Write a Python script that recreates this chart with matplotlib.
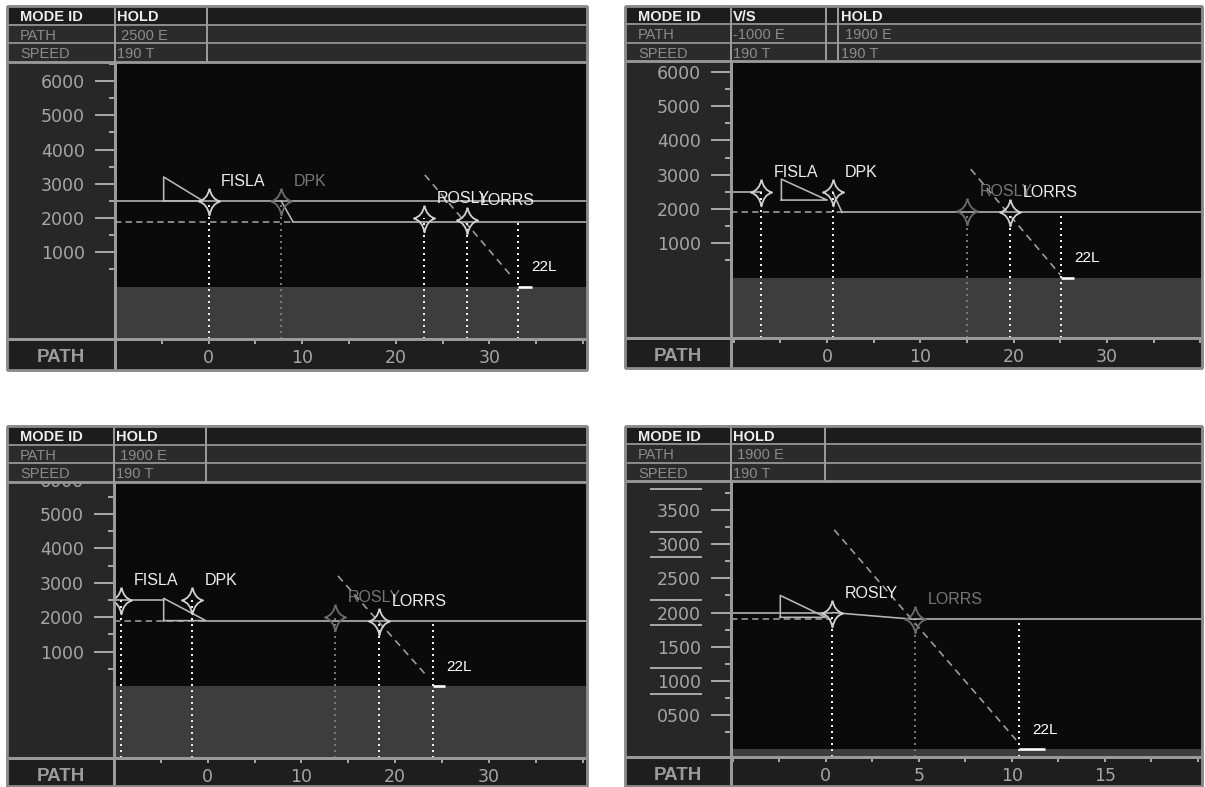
import numpy as np
import matplotlib
matplotlib.use("Agg")
import matplotlib.pyplot as plt
from matplotlib.path import Path
from matplotlib.patches import Rectangle
from matplotlib.ticker import MultipleLocator, FixedLocator, FuncFormatter

W, H = 1205, 787
PT = 72 / 100.0   # points per pixel

# ---------------- values read off the four displays ----------------
# top left
P1_HEADER = [["HOLD", " 2500 E", "190 T"]]
P1_WPT = ["FISLA", "DPK", "ROSLY", "LORRS"]
P1_WPT_X = [0.0, 7.75, 23.0, 27.6]
P1_WPT_ALT = [2500, 2500, 2000, 1950]
P1_WPT_LIT = [True, False, True, True]
P1_LEVEL_ALT = 2500
P1_LEVEL_END = None          # level line runs across the whole display
P1_TRI_X = [-4.8, -4.8, -0.6]
P1_TRI_ALT = [2500, 3200, 2500]
P1_DESC_X = [7.75, 9.0]
P1_DESC_ALT = [2500, 1900]
P1_SEL_ALT = 1900
P1_SEL_DASH_END = 9.0
P1_SEL_SOLID_START = 9.0
P1_GS_X = [23.1, 32.4]
P1_GS_ALT = [3260, 290]
P1_RWY_X = [33.1, 34.5]

# top right
P2_HEADER = [["V/S", "-1000 E", "190 T"], ["HOLD", " 1900 E", "190 T"]]
P2_WPT = ["FISLA", "DPK", "ROSLY", "LORRS"]
P2_WPT_X = [-7.1, 0.6, 15.0, 19.6]
P2_WPT_ALT = [2500, 2500, 1950, 1900]
P2_WPT_LIT = [True, True, False, True]
P2_LEVEL_ALT = 2500
P2_LEVEL_END = -7.1
P2_TRI_X = [-4.9, -4.9, 0.0]
P2_TRI_ALT = [2260, 2870, 2260]
P2_DESC_X = [0.6, 1.6]
P2_DESC_ALT = [2500, 1900]
P2_SEL_ALT = 1900
P2_SEL_DASH_END = 1.6
P2_SEL_SOLID_START = 1.6
P2_GS_X = [15.4, 25.0]
P2_GS_ALT = [3160, 80]
P2_RWY_X = [25.1, 26.5]

# bottom left
P3_HEADER = [["HOLD", " 1900 E", "190 T"]]
P3_WPT = ["FISLA", "DPK", "ROSLY", "LORRS"]
P3_WPT_X = [-9.2, -1.65, 13.6, 18.3]
P3_WPT_ALT = [2500, 2500, 2000, 1900]
P3_WPT_LIT = [True, True, False, True]
P3_LEVEL_ALT = 2500
P3_LEVEL_END = -4.7
P3_TRI_X = [-4.7, -4.7, -0.2]
P3_TRI_ALT = [1900, 2550, 1900]
P3_DESC_X = []
P3_DESC_ALT = []
P3_SEL_ALT = 1900
P3_SEL_DASH_END = -0.2
P3_SEL_SOLID_START = -0.2
P3_GS_X = [13.9, 23.3]
P3_GS_ALT = [3200, 320]
P3_RWY_X = [24.0, 25.35]

# bottom right
P4_HEADER = [["HOLD", " 1900 E", "190 T"]]
P4_WPT = ["ROSLY", "LORRS"]
P4_WPT_X = [0.35, 4.8]
P4_WPT_ALT = [2000, 1900]
P4_WPT_LIT = [True, False]
P4_LEVEL_ALT = 2000
P4_LEVEL_END = 0.35
P4_TRI_X = [-2.45, -2.45, 0.0]
P4_TRI_ALT = [1930, 2250, 1930]
P4_DESC_X = [0.35, 4.8]
P4_DESC_ALT = [2000, 1900]
P4_SEL_ALT = 1900
P4_SEL_DASH_END = 0.35
P4_SEL_SOLID_START = 4.8
P4_GS_X = [0.45, 10.23]
P4_GS_ALT = [3210, 135]
P4_RWY_X = [10.4, 11.8]

# ---------------- colours ----------------
C_FRAME = "#9a9a9a"
C_LEFTCOL = "#272727"
C_HDR1 = "#1c1c1c"
C_HDR2 = "#2b2b2b"
C_BOTTOM = "#1e1e1e"
C_SKY = "#0a0a0a"
C_GROUND = "#3d3d3d"
C_TICK = "#a6a6a6"
C_LIT = "#eeeeee"
C_DIM = "#767676"
C_LINE = "#b8b8b8"

STAR = Path([(0, 1.15), (0.2, 0.2), (0.95, 0), (0.2, -0.2), (0, -1.25),
             (-0.2, -0.2), (-0.95, 0), (-0.2, 0.2), (0, 1.15)],
            [Path.MOVETO] + [Path.CURVE3] * 8)

fig = plt.figure(figsize=(W / 100, H / 100), dpi=100)
fig.patch.set_facecolor("white")

bg = fig.add_axes([0, 0, 1, 1], zorder=0)
ov = fig.add_axes([0, 0, 1, 1], zorder=5)
for a in (bg, ov):
    a.set_xlim(0, W)
    a.set_ylim(H, 0)
    a.axis("off")


def hline(a, x0, x1, y, lw=1.6, color=C_FRAME):
    a.plot([x0, x1], [y, y], color=color, lw=lw * PT, solid_capstyle="butt")


def vline(a, x, y0, y1, lw=1.6, color=C_FRAME):
    a.plot([x, x], [y0, y1], color=color, lw=lw * PT, solid_capstyle="butt")


def draw_panel(lay, d):
    x0, y0, x1, y1 = lay["box"]
    lc, hb, pb = lay["lc"], lay["hb"], lay["pb"]

    # backgrounds
    bg.add_patch(Rectangle((x0, y0), x1 - x0, y1 - y0, color=C_LEFTCOL))
    bg.add_patch(Rectangle((x0, pb), x1 - x0, y1 - pb, color=C_BOTTOM))

    # header
    rh = (hb - y0) / 3.0
    ov.add_patch(Rectangle((x0, y0), x1 - x0, rh, color=C_HDR1))
    ov.add_patch(Rectangle((x0, y0 + rh), x1 - x0, 2 * rh, color=C_HDR2))
    for k in (1, 2):
        hline(ov, x0, x1, y0 + k * rh, lw=2, color="#8a8a8a")
    for xd in lay["hdr_div"]:
        vline(ov, xd, y0, hb, lw=2)
    rows = ["MODE ID", "PATH", "SPEED"]
    for k, name in enumerate(rows):
        base = y0 + (k + 1) * rh - 3.5
        ov.text(x0 + 13, base, name, color=C_LIT if k == 0 else "#8c8c8c",
                fontsize=10.5, fontweight="bold" if k == 0 else "normal",
                family="Liberation Sans", va="baseline", ha="left")
        for col, tx in zip(d["header"], lay["hdr_text_x"]):
            ov.text(tx, base, col[k], color=C_LIT if k == 0 else "#8c8c8c",
                    fontsize=10.5, fontweight="bold" if k == 0 else "normal",
                    family="Liberation Sans", va="baseline", ha="left")

    # frame
    hline(ov, x0, x1, hb, lw=2.8)
    hline(ov, x0, x1, pb, lw=3)
    vline(ov, lc, hb, y1, lw=3)
    hline(ov, x0, x1, y0, lw=2.8, color="#8c8c8c")
    hline(ov, x0, x1, y1, lw=2.8, color="#8c8c8c")
    vline(ov, x0, y0, y1, lw=2.8, color="#8c8c8c")
    vline(ov, x1, y0, y1, lw=2.8, color="#8c8c8c")
    ov.text((x0 + lc) / 2, pb + 23.4, "PATH", color="#9c9c9c", fontsize=13.5,
            fontweight="bold", family="Liberation Sans", ha="center", va="baseline")

    # data area (reaches under the header, which covers it)
    ax = fig.add_axes([lc / W, 1 - pb / H, (x1 - lc) / W, (pb - y0) / H], zorder=2)
    xs, ys = lay["x_scale"], lay["y_scale"]
    xl = lay["x_left"]
    ax.set_xlim(xl, xl + (x1 - lc) / xs)
    ylo = (lay["zero_y"] - pb) / ys * 1000
    yhi = (lay["zero_y"] - y0) / ys * 1000
    ax.set_ylim(ylo, yhi)
    ax.set_facecolor(C_SKY)
    for s in ax.spines.values():
        s.set_visible(False)
    ax.axhspan(ylo, 0, color=C_GROUND, lw=0)

    ax.yaxis.set_major_locator(FixedLocator(lay["y_major"]))
    ax.yaxis.set_minor_locator(FixedLocator(np.arange(lay["y_minor"], yhi, lay["y_minor"])))
    ax.yaxis.set_major_formatter(FuncFormatter(lambda v, p: lay["y_fmt"] % v))
    ax.xaxis.set_major_locator(FixedLocator(lay["x_major"]))
    ax.xaxis.set_minor_locator(MultipleLocator(lay["x_minor"]))
    ax.tick_params(axis="y", which="major", direction="out", length=20 * PT,
                   width=2 * PT, color=C_TICK, pad=10 * PT, labelsize=12.5,
                   labelcolor=C_TICK)
    ax.tick_params(axis="y", which="minor", direction="out", length=6 * PT,
                   width=2 * PT, color=C_TICK)
    ax.tick_params(axis="x", which="both", direction="out", length=5 * PT,
                   width=2 * PT, color=C_TICK, pad=5 * PT, labelsize=12.5,
                   labelcolor=C_TICK)
    for t in ax.get_yticklabels() + ax.get_xticklabels():
        t.set_family("DejaVu Sans")

    lw = 1.6 * PT
    xmax = ax.get_xlim()[1]
    # level line, selected altitude, descent
    lvl_end = xmax if d["level_end"] is None else d["level_end"]
    ax.plot([xl, lvl_end], [d["level_alt"]] * 2, color=C_LINE, lw=lw)
    ax.plot([xl, d["sel_dash_end"]], [d["sel_alt"]] * 2, color="#a0a0a0", lw=lw,
            dashes=(4, 2.6))
    ax.plot([d["sel_solid_start"], xmax], [d["sel_alt"]] * 2, color=C_LINE, lw=lw)
    if d["desc_x"]:
        ax.plot(d["desc_x"], d["desc_alt"], color=C_LINE, lw=lw)
    tx = d["tri_x"] + d["tri_x"][:1]
    ta = d["tri_alt"] + d["tri_alt"][:1]
    ax.plot(tx, ta, color=C_LINE, lw=lw)
    ax.plot(d["gs_x"], d["gs_alt"], color="#a0a0a0", lw=lw, dashes=(4.5, 3.2))

    # runway threshold
    ax.vlines(d["rwy_x"][0], ylo, d["sel_alt"], color=C_LIT, lw=2 * PT,
              linestyles=(0, (1, 2)))
    ax.plot(d["rwy_x"], [0, 0], color="white", lw=2.6 * PT, solid_capstyle="butt")
    ax.annotate("22L", (d["rwy_x"][0], 0), xytext=(9.5, 14), textcoords="offset points",
                color="white", fontsize=11, family="Liberation Sans",
                ha="left", va="center")

    # waypoints
    for name, wx, wa, lit in zip(d["wpt"], d["wpt_x"], d["wpt_alt"], d["wpt_lit"]):
        c = C_LIT if lit else C_DIM
        ax.vlines(wx, ylo, wa, color=c, lw=2 * PT, linestyles=(0, (1, 2)))
        ax.plot([wx], [wa], marker=STAR, markersize=20, markerfacecolor="none",
                markeredgecolor="#d0d0d0" if lit else "#6c6c6c", markeredgewidth=1.3,
                linestyle="none")
        ax.annotate(name, (wx, wa), xytext=(9, 14), textcoords="offset points",
                    color=c, fontsize=11.5, family="Liberation Sans",
                    ha="left", va="center")

    # bars over and under the thousands on the half-scale display
    if lay.get("bars"):
        tr = ax.get_yaxis_transform()
        f0, f1 = -80.0 / (x1 - lc), -30.0 / (x1 - lc)
        off = 12.7 / ys * 1000
        for v in lay["bars"]:
            for sgn in (1, -1):
                ax.plot([f0, f1], [v + sgn * off] * 2, transform=tr, clip_on=False,
                        color=C_TICK, lw=2 * PT)


def pack(header, wpt, wx, wa, wl, lvl_alt, lvl_end, trx, tra, dx, da,
         sel, sde, sss, gx, ga, rwy):
    return dict(header=header, wpt=wpt, wpt_x=wx, wpt_alt=wa, wpt_lit=wl,
                level_alt=lvl_alt, level_end=lvl_end, tri_x=trx, tri_alt=tra,
                desc_x=dx, desc_alt=da, sel_alt=sel, sel_dash_end=sde,
                sel_solid_start=sss, gs_x=gx, gs_alt=ga, rwy_x=rwy)


thousand = dict(y_major=[1000, 2000, 3000, 4000, 5000, 6000], y_minor=500, y_fmt="%d",
                x_major=[0, 10, 20, 30], x_minor=5)
layouts = [
    dict(box=(7, 6, 587, 370), lc=115, hb=62, pb=339, hdr_div=[115, 207],
         hdr_text_x=[117], x_left=-10, x_scale=9.36, zero_y=286.6, y_scale=34.26,
         **thousand),
    dict(box=(625, 6, 1202, 368), lc=731, hb=61, pb=338, hdr_div=[731, 826, 838],
         hdr_text_x=[733, 841], x_left=-10.3, x_scale=9.33, zero_y=277.6, y_scale=34.3,
         **thousand),
    dict(box=(7, 426, 587, 786), lc=114, hb=482, pb=758, hdr_div=[114, 206],
         hdr_text_x=[116], x_left=-10, x_scale=9.37, zero_y=686, y_scale=34.4,
         **thousand),
    dict(box=(625, 426, 1202, 786), lc=731, hb=481, pb=757, hdr_div=[731, 825],
         hdr_text_x=[733], x_left=-5.1, x_scale=18.6, zero_y=749.2, y_scale=68.33,
         y_major=[500, 1000, 1500, 2000, 2500, 3000, 3500], y_minor=250, y_fmt="%04d",
         x_major=[0, 5, 10, 15], x_minor=2.5, bars=[1000, 2000, 3000, 4000]),
]
panels = [
    pack(P1_HEADER, P1_WPT, P1_WPT_X, P1_WPT_ALT, P1_WPT_LIT, P1_LEVEL_ALT, P1_LEVEL_END,
         P1_TRI_X, P1_TRI_ALT, P1_DESC_X, P1_DESC_ALT, P1_SEL_ALT, P1_SEL_DASH_END,
         P1_SEL_SOLID_START, P1_GS_X, P1_GS_ALT, P1_RWY_X),
    pack(P2_HEADER, P2_WPT, P2_WPT_X, P2_WPT_ALT, P2_WPT_LIT, P2_LEVEL_ALT, P2_LEVEL_END,
         P2_TRI_X, P2_TRI_ALT, P2_DESC_X, P2_DESC_ALT, P2_SEL_ALT, P2_SEL_DASH_END,
         P2_SEL_SOLID_START, P2_GS_X, P2_GS_ALT, P2_RWY_X),
    pack(P3_HEADER, P3_WPT, P3_WPT_X, P3_WPT_ALT, P3_WPT_LIT, P3_LEVEL_ALT, P3_LEVEL_END,
         P3_TRI_X, P3_TRI_ALT, P3_DESC_X, P3_DESC_ALT, P3_SEL_ALT, P3_SEL_DASH_END,
         P3_SEL_SOLID_START, P3_GS_X, P3_GS_ALT, P3_RWY_X),
    pack(P4_HEADER, P4_WPT, P4_WPT_X, P4_WPT_ALT, P4_WPT_LIT, P4_LEVEL_ALT, P4_LEVEL_END,
         P4_TRI_X, P4_TRI_ALT, P4_DESC_X, P4_DESC_ALT, P4_SEL_ALT, P4_SEL_DASH_END,
         P4_SEL_SOLID_START, P4_GS_X, P4_GS_ALT, P4_RWY_X),
]

for lay, d in zip(layouts, panels):
    draw_panel(lay, d)

fig.savefig("out.png", dpi=100, facecolor="white")
